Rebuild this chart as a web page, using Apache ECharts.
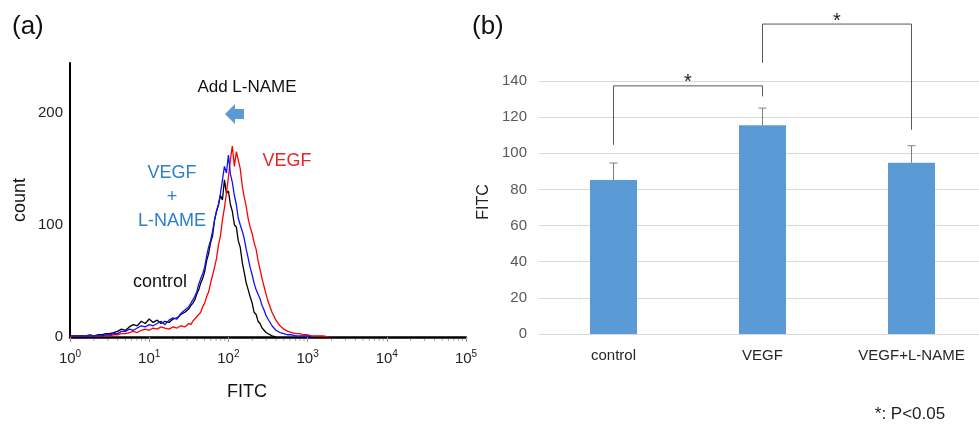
<!DOCTYPE html>
<html><head><meta charset="utf-8">
<script src="https://cdn.jsdelivr.net/npm/echarts@6/dist/echarts.min.js"></script>
<style>html,body{margin:0;padding:0;background:#fff;overflow:hidden}#c{width:986px;height:425px}</style>
</head><body><div id="c"></div>
<script>
// ---------- Panel (a): flow cytometry histogram ----------
const fitc = [1,1.12,1.26,1.41,1.58,1.78,2,2.24,2.51,2.82,3.16,3.55,3.98,4.47,5.01,5.62,6.31,7.08,7.94,8.91,
  10,11.2,12.6,14.1,15.8,17.8,20,22.4,25.1,28.2,
  31.6,33.5,35.5,37.6,39.8,42.2,44.7,47.3,50.1,53.1,56.2,59.6,63.1,66.8,70.8,75.0,79.4,84.1,89.1,94.4,
  100,106,112,119,126,133,141,150,158,168,178,188,200,211,224,237,251,266,282,299,316,
  355,398,447,501,562,631,708,794,891,1000,1122,1259,1413,1585,1778,1995];
const controlCounts = [1,1,1,1,1,2,1,2,2,3,3,4,5,7,6,9,11,10,14,12,16,13,15,12,14,13,16,17,20,22,
  25,28,30,33,38,42,48,52,58,68,74,84,90,104,112,118,126,122,140,128,
  130,118,112,100,98,86,80,66,58,48,42,36,30,22,20,14,12,8,6,4,3,
  1,0];
const vegfCounts = [0,1,1,1,1,1,1,1,1,1,1,2,2,3,3,4,5,4,6,7,6,8,7,9,8,7,9,8,10,9,
  12,11,14,16,18,20,22,27,30,36,40,48,55,62,70,82,90,104,115,128,
  142,158,170,152,165,158,150,134,125,116,105,98,92,84,78,68,60,52,45,38,32,
  22,15,10,7,5,4,3,3,2,2,1,1,1,1,0];
const lnameCounts = [1,1,1,1,1,1,1,1,1,2,2,3,3,5,5,7,6,8,10,9,11,10,12,14,11,15,17,16,21,24,
  27,30,33,36,40,47,52,56,62,72,80,86,94,104,112,118,128,140,152,146,
  162,145,138,126,118,106,100,94,88,78,70,62,55,48,42,38,34,28,24,19,16,
  10,6,4,3,2,2,1,1,1,1,0];
const histTicks = [0,100,200];
const minorTicks = [2,3,4,5,6,7,8,9,20,30,40,50,60,70,80,90,200,300,400,500,600,700,800,900,
  2000,3000,4000,5000,6000,7000,8000,9000,20000,30000,40000,50000,60000,70000,80000,90000];

// ---------- Panel (b): bar chart ----------
const groups = ['control','VEGF','VEGF+L-NAME'];
const means = [85.2, 115.5, 94.8];
const sds = [9.4, 9.5, 9.4];
// [fromIndex, toIndex, leftEndValue, topValue, rightEndValue]
const brackets = [[0,1,104.7,137.3,131.5],[1,2,150,171.5,113]];
const barTicks = [0,20,40,60,80,100,120,140];

const FONT = '"Liberation Sans", Arial, sans-serif';
const pairs = c => c.map((v,i)=>[fitc[i], v]);

const chart = echarts.init(document.getElementById('c'), null, {renderer:'canvas'});
chart.setOption({
  backgroundColor:'#fff',
  animation:false,
  textStyle:{fontFamily:FONT},
  grid:[
    {left:70, top:63, right:520, bottom:88},
    {left:539, top:81, right:0, bottom:91}
  ],
  xAxis:[
    {type:'log', gridIndex:0, min:1, max:100000, logBase:10,
     axisLine:{lineStyle:{color:'#000', width:2.5}},
     axisTick:{show:true, length:5, lineStyle:{color:'#999'}},
     splitLine:{show:false},
     axisLabel:{margin:12, color:'#222',
       formatter:v=>'{b|10}{s|'+Math.round(Math.log10(v))+'}',
       rich:{b:{fontSize:15, fontFamily:FONT, color:'#222'}, s:{fontSize:10, fontFamily:FONT, color:'#222', padding:[0,0,9,0]}}}},
    {type:'category', gridIndex:1, data:groups,
     axisLine:{lineStyle:{color:'#d9d9d9'}},
     axisTick:{show:false},
     axisLabel:{margin:14, fontSize:15, color:'#262626', fontFamily:FONT}}
  ],
  yAxis:[
    {type:'value', gridIndex:0, min:histTicks[0], max:244, interval:100,
     axisLine:{show:true, lineStyle:{color:'#000', width:2}},
     axisTick:{show:false}, splitLine:{show:false},
     axisLabel:{showMaxLabel:false, margin:7, fontSize:15, color:'#222', fontFamily:FONT}},
    {type:'value', gridIndex:1, min:barTicks[0], max:barTicks[barTicks.length-1], interval:20,
     axisLine:{show:false}, axisTick:{show:false},
     splitLine:{lineStyle:{color:'#d9d9d9'}},
     axisLabel:{margin:12, fontSize:15, color:'#595959', fontFamily:FONT}}
  ],
  series:[
    {type:'custom', xAxisIndex:0, yAxisIndex:0, silent:true,
     data:minorTicks.map(v=>[v,0]),
     renderItem:(p,api)=>{const c=api.coord([api.value(0),0]);
       return {type:'line', shape:{x1:c[0],y1:c[1]+2,x2:c[0],y2:c[1]+4}, style:{stroke:'#aaa', lineWidth:1}};}},
    {name:'control', type:'line', xAxisIndex:0, yAxisIndex:0, data:pairs(controlCounts),
     showSymbol:false, lineStyle:{color:'#000', width:1.3}, z:3},
    {name:'VEGF', type:'line', xAxisIndex:0, yAxisIndex:0, data:pairs(vegfCounts),
     showSymbol:false, lineStyle:{color:'#ff0000', width:1.3}, z:4},
    {name:'VEGF+L-NAME', type:'line', xAxisIndex:0, yAxisIndex:0, data:pairs(lnameCounts),
     showSymbol:false, lineStyle:{color:'#1010ff', width:1.3}, z:5},
    {type:'bar', xAxisIndex:1, yAxisIndex:1, data:means, barWidth:47,
     itemStyle:{color:'#5b9bd5'}},
    {type:'custom', xAxisIndex:1, yAxisIndex:1, silent:true, z:5,
     data:means.map((m,i)=>[i,m,m+sds[i]]),
     renderItem:(p,api)=>{
       const a=api.coord([api.value(0),api.value(1)]), b=api.coord([api.value(0),api.value(2)]);
       return {type:'group', children:[
         {type:'line', shape:{x1:a[0],y1:a[1],x2:b[0],y2:b[1]}, style:{stroke:'#7f7f7f', lineWidth:1}},
         {type:'line', shape:{x1:b[0]-4,y1:b[1],x2:b[0]+4,y2:b[1]}, style:{stroke:'#7f7f7f', lineWidth:1}}]};}},
    {type:'custom', xAxisIndex:1, yAxisIndex:1, silent:true, clip:false, z:5,
     data:brackets,
     renderItem:(p,api)=>{
       const l0=api.coord([api.value(0),api.value(2)]), lt=api.coord([api.value(0),api.value(3)]);
       const rt=api.coord([api.value(1),api.value(3)]), r0=api.coord([api.value(1),api.value(4)]);
       return {type:'group', children:[
         {type:'polyline', shape:{points:[l0,lt,rt,r0]}, style:{stroke:'#595959', lineWidth:1, fill:null}},
         {type:'text', x:(lt[0]+rt[0])/2, y:lt[1]+7, style:{text:'*', fontSize:20, fontFamily:FONT, fill:'#222', align:'center', verticalAlign:'bottom'}}]};}}
  ],
  graphic:[
    {type:'text', x:12, y:27, style:{text:'(a)', font:'26px '+FONT, fill:'#111', verticalAlign:'middle'}},
    {type:'text', x:472, y:27, style:{text:'(b)', font:'26px '+FONT, fill:'#111', verticalAlign:'middle'}},
    {type:'text', x:20, y:200, rotation:Math.PI/2, style:{text:'count', font:'18px '+FONT, fill:'#111', align:'center', verticalAlign:'middle'}},
    {type:'text', x:247, y:392, style:{text:'FITC', font:'18px '+FONT, fill:'#111', align:'center', verticalAlign:'middle'}},
    {type:'text', x:247, y:87, style:{text:'Add L-NAME', font:'17px '+FONT, fill:'#111', align:'center', verticalAlign:'middle'}},
    {type:'polygon', shape:{points:[[225,114],[235,104],[235,109],[244,109],[244,119],[235,119],[235,124]]}, style:{fill:'#5b9bd5'}},
    {type:'text', x:287, y:161, style:{text:'VEGF', font:'18px '+FONT, fill:'#e8262a', align:'center', verticalAlign:'middle'}},
    {type:'text', x:172, y:173, style:{text:'VEGF', font:'18px '+FONT, fill:'#2b7fcf', align:'center', verticalAlign:'middle'}},
    {type:'text', x:172, y:197, style:{text:'+', font:'18px '+FONT, fill:'#2b7fcf', align:'center', verticalAlign:'middle'}},
    {type:'text', x:172, y:221, style:{text:'L-NAME', font:'18px '+FONT, fill:'#2b7fcf', align:'center', verticalAlign:'middle'}},
    {type:'text', x:160, y:282, style:{text:'control', font:'18px '+FONT, fill:'#111', align:'center', verticalAlign:'middle'}},
    {type:'text', x:484, y:202, rotation:Math.PI/2, style:{text:'FITC', font:'16px '+FONT, fill:'#222', align:'center', verticalAlign:'middle'}},
    {type:'text', x:910, y:414, style:{text:'*: P<0.05', font:'17px '+FONT, fill:'#222', align:'center', verticalAlign:'middle'}}
  ]
});
</script></body></html>
